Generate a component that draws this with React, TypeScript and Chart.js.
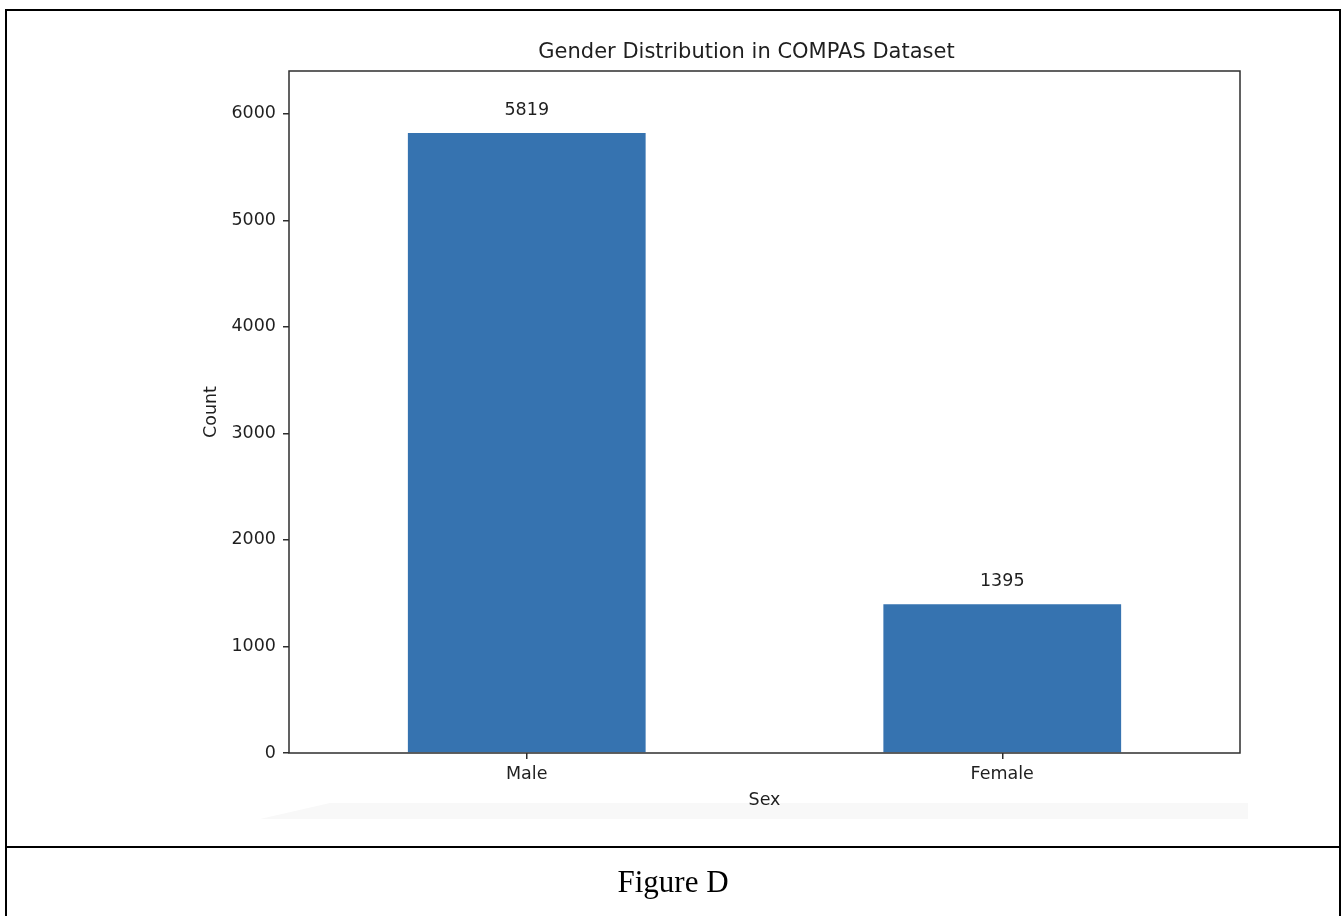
import React, { useEffect, useRef } from "react";
import { Chart, registerables } from "chart.js";

Chart.register(...registerables);

const categories = ["Male", "Female"];
const counts = [5819, 1395];
const yTickValues = [0, 1000, 2000, 3000, 4000, 5000, 6000];
const yMax = 6401;
const chartTitle = "Gender Distribution in COMPAS Dataset";
const xTitle = "Sex";
const yTitle = "Count";
const caption = "Figure D";

const FONT = "'DejaVu Sans', sans-serif";
const TEXT = "#1f1f1f";
const SPINE = "#2e2e2e";
const BAR = "#3673B0";
const TICK_SIZE = 17.5;

export default function App() {
  const ref = useRef<HTMLCanvasElement>(null);

  useEffect(() => {
    const canvas = ref.current;
    if (!canvas) return;

    const framePlugin = {
      id: "frameAndLabels",
      afterDatasetsDraw(chart: any) {
        const { ctx, chartArea: a } = chart;
        ctx.save();
        ctx.strokeStyle = SPINE;
        ctx.lineWidth = 1.5;
        ctx.strokeRect(a.left, a.top, a.right - a.left, a.bottom - a.top);

        ctx.fillStyle = TEXT;
        ctx.textAlign = "center";
        ctx.textBaseline = "middle";
        ctx.font = `${TICK_SIZE}px ${FONT}`;
        const meta = chart.getDatasetMeta(0);
        meta.data.forEach((el: any, i: number) => {
          ctx.fillText(String(counts[i]), el.x, el.y - 22.5);
        });

        ctx.font = `21px ${FONT}`;
        ctx.fillText(chartTitle, (a.left + a.right) / 2 - 18, a.top - 18);
        ctx.restore();
      },
    };

    const chart = new Chart(canvas, {
      type: "bar",
      data: {
        labels: categories,
        datasets: [
          {
            label: yTitle,
            data: counts,
            backgroundColor: BAR,
            borderWidth: 0,
            barPercentage: 0.5,
            categoryPercentage: 1,
          },
        ],
      },
      options: {
        responsive: false,
        animation: false,
        devicePixelRatio: 1,
        layout: { padding: { top: 71, left: 0, right: 103, bottom: 0 } },
        plugins: {
          legend: { display: false },
          tooltip: { enabled: false },
          title: { display: false },
        },
        scales: {
          x: {
            type: "category",
            offset: true,
            border: { display: false },
            grid: {
              offset: false,
              drawOnChartArea: false,
              drawTicks: true,
              tickLength: 6,
              tickColor: SPINE,
              lineWidth: 1.5,
            },
            ticks: {
              color: TEXT,
              font: { family: FONT, size: TICK_SIZE },
              padding: 4.5,
              maxRotation: 0,
            },
            title: {
              display: true,
              text: xTitle,
              color: TEXT,
              font: { family: FONT, size: TICK_SIZE },
              padding: { top: 0, bottom: 35.5 },
            },
            afterFit(scale: any) {
              scale.height = 93;
            },
          },
          y: {
            type: "linear",
            min: 0,
            max: yMax,
            border: { display: false },
            grid: {
              drawOnChartArea: false,
              drawTicks: true,
              tickLength: 6,
              tickColor: SPINE,
              lineWidth: 1.5,
            },
            ticks: {
              color: TEXT,
              font: { family: FONT, size: TICK_SIZE },
              padding: 7,
              callback: (value: any) => String(value),
            },
            afterBuildTicks(scale: any) {
              scale.ticks = yTickValues.map((v) => ({ value: v }));
            },
            title: {
              display: true,
              text: yTitle,
              color: TEXT,
              font: { family: FONT, size: TICK_SIZE },
              padding: { top: 200.5, bottom: 0 },
            },
            afterFit(scale: any) {
              scale.width = 289;
            },
          },
        },
      },
      plugins: [framePlugin],
    });

    return () => chart.destroy();
  }, []);

  return (
    <div
      style={{
        position: "fixed",
        left: 0,
        top: 0,
        width: 1343,
        height: 916,
        overflow: "hidden",
        background: "#ffffff",
      }}
    >
      <div
        style={{
          position: "absolute",
          left: 260,
          top: 803,
          width: 988,
          height: 16,
          background: "#f8f8f8",
          clipPath: "polygon(70px 0, 100% 0, 100% 100%, 0 100%)",
        }}
      />
      <canvas
        ref={ref}
        width={1343}
        height={846}
        style={{ position: "absolute", left: 0, top: 0, width: 1343, height: 846 }}
      />
      <div
        style={{
          position: "absolute",
          left: 5,
          top: 9,
          width: 1336,
          height: 930,
          border: "2px solid #000",
          boxSizing: "border-box",
        }}
      />
      <div
        style={{
          position: "absolute",
          left: 5,
          top: 846,
          width: 1336,
          height: 2,
          background: "#000",
        }}
      />
      <div
        style={{
          position: "absolute",
          left: 5,
          top: 864,
          width: 1336,
          textAlign: "center",
          fontFamily: "'Liberation Serif', 'Times New Roman', serif",
          fontSize: 31,
          lineHeight: "normal",
          color: "#000",
        }}
      >
        {caption}
      </div>
    </div>
  );
}
